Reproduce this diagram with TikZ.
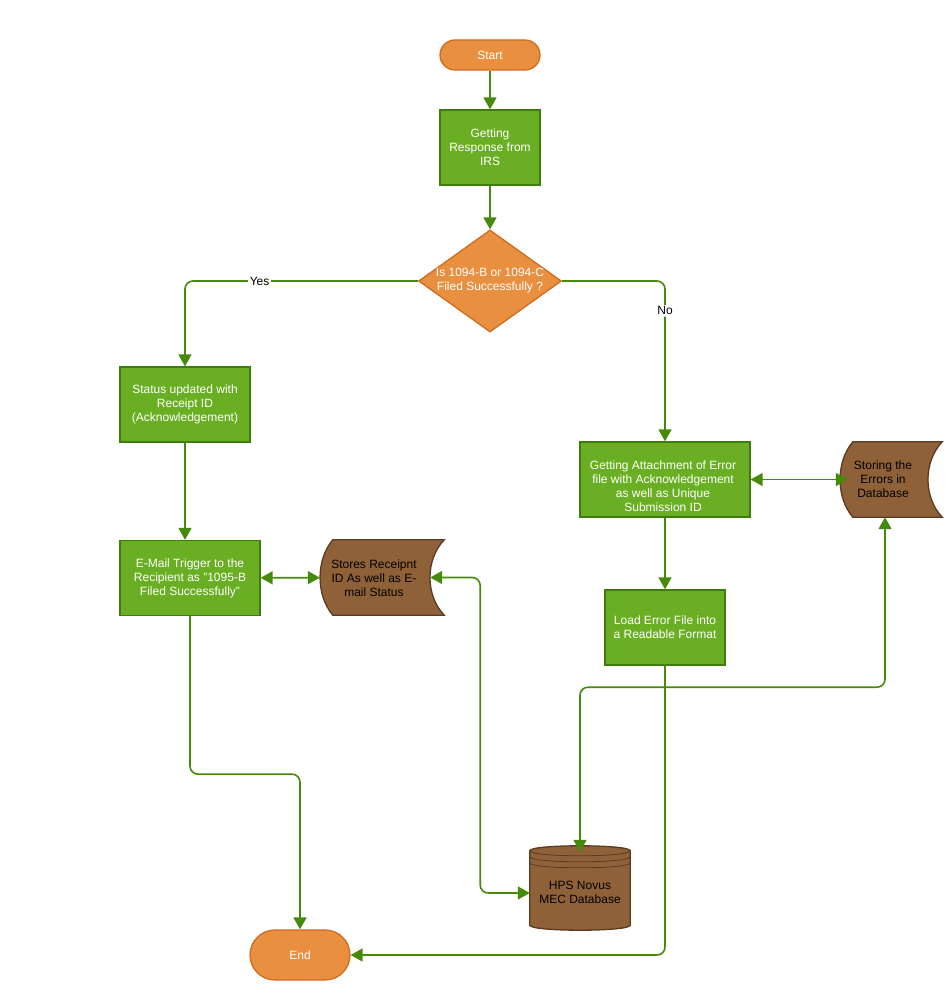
\documentclass[tikz,border=0pt]{standalone}
\usepackage{fontspec}
\setmainfont{Liberation Sans}
\usetikzlibrary{
  shapes.geometric,
  arrows.meta,
  calc,
  backgrounds,
}

\definecolor{orfill}{HTML}{E98F40}
\definecolor{orline}{HTML}{CF6B22}
\definecolor{grfill}{HTML}{6AAF23}
\definecolor{grline}{HTML}{3E7D0C}
\definecolor{brfill}{HTML}{8F6139}
\definecolor{brline}{HTML}{5A3B20}
\definecolor{flowcol}{HTML}{468A0A}

\tikzset{
  every node/.style={font=\fontsize{12}{14}\selectfont, align=center, inner sep=0pt},
  startstop/.style={rectangle, draw=orline, fill=orfill, text=white, line width=1.3pt,
    minimum width=100pt},
  process/.style={rectangle, draw=grline, fill=grfill, text=white, line width=1.3pt,
    minimum height=75pt},
  proctext/.style={text=white},
  decision/.style={diamond, draw=orline, fill=orfill, text=white, line width=1.3pt,
    minimum width=140pt, minimum height=100pt, aspect=1.4},
  storebox/.style={minimum height=75pt, text=black},
  dbbox/.style={minimum width=100pt, minimum height=85pt, text=black},
  shapeline/.style={draw=brline, fill=brfill, line width=1.3pt},
  flow/.style={draw=flowcol, line width=1.6pt, rounded corners=8pt,
    -{Triangle[length=12pt,width=13pt]}},
  flowboth/.style={flow, {Triangle[length=12pt,width=13pt]}-{Triangle[length=12pt,width=13pt]}},
  lbl/.style={fill=white, text=black, inner sep=1.5pt},
}

% stored data shape round a named node
\newcommand{\storeshape}[1]{%
  \path[shapeline] ($(#1.north west)+(13,0)$) -- (#1.north east)
    .. controls ($(#1.north east)+(-19,20)$) and ($(#1.south east)+(-19,-20)$) .. (#1.south east)
    -- ($(#1.south west)+(13,0)$)
    .. controls ($(#1.south west)+(-4,-20)$) and ($(#1.north west)+(-4,20)$) .. ($(#1.north west)+(13,0)$)
    -- cycle;}

% database cylinder round a named node
\newcommand{\dbshape}[1]{%
  \path[shapeline] ($(#1.north west)+(0,6)$) -- ($(#1.south west)+(0,-5)$)
    .. controls ($(#1.south west)+(0,1.67)$) and ($(#1.south east)+(0,1.67)$) .. ($(#1.south east)+(0,-5)$)
    -- ($(#1.north east)+(0,6)$)
    .. controls ($(#1.north east)+(0,-0.67)$) and ($(#1.north west)+(0,-0.67)$) .. ($(#1.north west)+(0,6)$)
    -- cycle;
  \foreach \k in {6,12,18} {
    \draw[brline, line width=0.8pt] ($(#1.north west)+(0,\k)$)
      .. controls ($(#1.north west)+(0,\k+6.67)$) and ($(#1.north east)+(0,\k+6.67)$) .. ($(#1.north east)+(0,\k)$);
  }}

\begin{document}
\begin{tikzpicture}[x=1pt, y=-1pt]
\useasboundingbox (0,0) rectangle (950,1000);

\node[startstop, minimum height=30pt, rounded corners=15pt] (start) at (490,55) {Start};
\node[process, minimum width=100pt] (irs) at (490,147.5) {Getting\\Response from\\IRS};
\node[decision] (check) at (490,281) {Is 1094-B or 1094-C\\Filed Successfully ?};
\node[process, minimum width=130pt] (status) at (185,404.5) {Status updated with\\Receipt ID\\(Acknowledgement)};
\node[process, minimum width=140pt] (mail) at (190,578) {E-Mail Trigger to the\\Recipient as "1095-B\\Filed Successfully"};
\node[storebox, minimum width=124pt] (stores) at (382,577.5) {};
\node (storestext) at (374,578) {Stores Receipnt\\ID As well as E-\\mail Status};
\node[process, minimum width=170pt] (attach) at (665,479.5) {};
\node[proctext] (attachtext) at (663,486.5) {Getting Attachment of Error\\file with Acknowledgement\\as well as Unique\\Submission ID};
\node[storebox, minimum width=102pt] (errors) at (891,479.5) {};
\node (errorstext) at (883,479.5) {Storing the\\Errors in\\Database};
\node[process, minimum width=120pt] (load) at (665,627.5) {Load Error File into\\a Readable Format};
\node[dbbox] (db) at (580,887.5) {};
\node (dbtext) at (580,892.5) {HPS Novus\\MEC Database};
\node[startstop, minimum height=50pt, rounded corners=25pt] (end) at (300,955) {End};

\begin{scope}[on background layer]
\storeshape{stores}
\storeshape{errors}
\dbshape{db}
\end{scope}

\draw[flow] (start) -- (irs);
\draw[flow] (irs) -- (check);
\draw[flow] (check.west) -| node[lbl, pos=0.34] {Yes} (status);
\draw[flow] (check.east) -| node[lbl, pos=0.593] {No} (attach);
\draw[flow] (status) -- (status |- mail.north);
\draw[flowboth] (mail) -- (stores);
\draw[flow] (mail.south) -- ++(0,158) -| (end);
\draw[flowboth] ([xshift=-14pt]stores.east) -- ++(50,0) |- ([yshift=-5.5pt]db.west);
\draw[flowboth] (attach) -- ([xshift=8pt]errors.west);
\draw[flow] (attach) -- (load);
\draw[flow] (load.south) |- (end.east);
\draw[flowboth] ([xshift=-6pt]errors.south) -- ++(0,170) -| ([yshift=-7pt]db.north);
\end{tikzpicture}
\end{document}
